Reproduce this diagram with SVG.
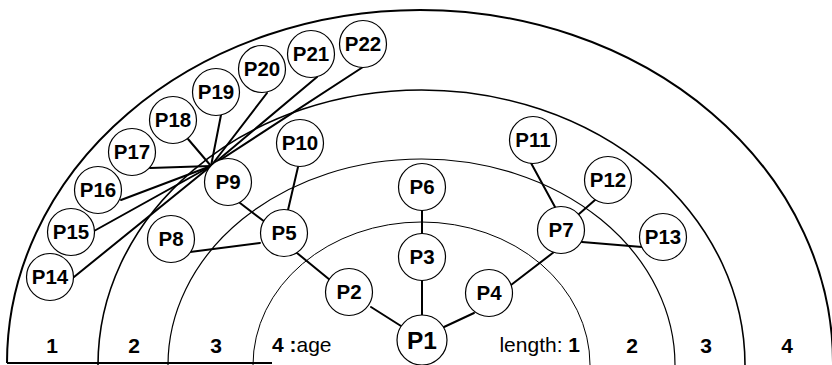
<svg xmlns="http://www.w3.org/2000/svg" width="832" height="365" viewBox="0 0 832 365">
<style>
.arc{fill:none;stroke:#000}
.edge{stroke:#000;stroke-width:2;stroke-linecap:round}
.node circle{fill:#fff;stroke:#000;stroke-width:1.2}
.node text{font-family:"Liberation Sans",Arial,sans-serif;font-weight:bold;font-size:20.5px;text-anchor:middle}
.lbl{font-family:"Liberation Sans",Arial,sans-serif;font-size:21px}
.b{font-weight:bold}
</style>
<rect width="832" height="365" fill="#fff"/>
<g id="rings">
<path class="arc" stroke-width="2" d="M7,363 A413,353 0 0 1 833,363"/>
<path class="arc" stroke-width="1.6" d="M98,365 A323.5,275 0 0 1 745,365"/>
<path class="arc" stroke-width="1.2" d="M168,365 A253.5,206 0 0 1 675,365"/>
<path class="arc" stroke-width="1" d="M253,365 A168.5,143 0 0 1 590,365"/>
<line x1="7" y1="363" x2="272" y2="363" stroke="#000" stroke-width="1.8"/>
</g>
<g id="connectors">
<line class="edge" x1="371" y1="307" x2="401" y2="326"/>
<line class="edge" x1="422" y1="281" x2="422" y2="316"/>
<line class="edge" x1="422" y1="210" x2="422" y2="234"/>
<line class="edge" x1="444" y1="327" x2="474" y2="313"/>
<line class="edge" x1="511" y1="285" x2="554" y2="252"/>
<line class="edge" x1="555" y1="207" x2="531" y2="163"/>
<line class="edge" x1="579" y1="214" x2="595" y2="200"/>
<line class="edge" x1="582" y1="242" x2="642" y2="247"/>
<line class="edge" x1="297" y1="253" x2="330" y2="280"/>
<line class="edge" x1="240" y1="203" x2="265" y2="222"/>
<line class="edge" x1="288" y1="210" x2="298" y2="167"/>
<line class="edge" x1="260" y1="243" x2="190" y2="252"/>
<line class="edge" x1="74" y1="277" x2="211" y2="166"/>
<line class="edge" x1="94" y1="231" x2="211" y2="166"/>
<line class="edge" x1="121" y1="200" x2="211" y2="166"/>
<line class="edge" x1="150" y1="168" x2="211" y2="166"/>
<line class="edge" x1="188" y1="139" x2="211" y2="166"/>
<line class="edge" x1="221" y1="115" x2="211" y2="166"/>
<line class="edge" x1="267" y1="93" x2="211" y2="166"/>
<line class="edge" x1="317" y1="77" x2="211" y2="166"/>
<line class="edge" x1="363" y1="67" x2="211" y2="166"/>
</g>
<g id="P1" class="node"><circle cx="422" cy="340" r="25"/><text x="422" y="349" style="font-size:24.5px">P1</text></g>
<g id="P2" class="node"><circle cx="349" cy="292" r="23.5"/><text x="349" y="299">P2</text></g>
<g id="P3" class="node"><circle cx="422" cy="257" r="23.5"/><text x="422" y="264">P3</text></g>
<g id="P4" class="node"><circle cx="489" cy="293" r="23.5"/><text x="489" y="300">P4</text></g>
<g id="P5" class="node"><circle cx="284" cy="233" r="23.5"/><text x="284" y="240">P5</text></g>
<g id="P6" class="node"><circle cx="422" cy="187" r="23.5"/><text x="422" y="194">P6</text></g>
<g id="P7" class="node"><circle cx="561" cy="230" r="23.5"/><text x="561" y="237">P7</text></g>
<g id="P8" class="node"><circle cx="171" cy="239" r="23.5"/><text x="171" y="246">P8</text></g>
<g id="P9" class="node"><circle cx="228" cy="182" r="23.5"/><text x="228" y="189">P9</text></g>
<g id="P10" class="node"><circle cx="300" cy="143" r="23.5"/><text x="300" y="150">P10</text></g>
<g id="P11" class="node"><circle cx="533" cy="140" r="23.5"/><text x="533" y="147">P11</text></g>
<g id="P12" class="node"><circle cx="608" cy="180" r="23.5"/><text x="608" y="187">P12</text></g>
<g id="P13" class="node"><circle cx="663" cy="237" r="23.5"/><text x="663" y="244">P13</text></g>
<g id="P14" class="node"><circle cx="50" cy="277" r="23.5"/><text x="50" y="284">P14</text></g>
<g id="P15" class="node"><circle cx="71" cy="232" r="23.5"/><text x="71" y="239">P15</text></g>
<g id="P16" class="node"><circle cx="98" cy="190" r="23.5"/><text x="98" y="197">P16</text></g>
<g id="P17" class="node"><circle cx="132" cy="152" r="23.5"/><text x="132" y="159">P17</text></g>
<g id="P18" class="node"><circle cx="173" cy="120" r="23.5"/><text x="173" y="127">P18</text></g>
<g id="P19" class="node"><circle cx="216" cy="92" r="23.5"/><text x="216" y="99">P19</text></g>
<g id="P20" class="node"><circle cx="262" cy="69" r="23.5"/><text x="262" y="76">P20</text></g>
<g id="P21" class="node"><circle cx="311" cy="54" r="23.5"/><text x="311" y="61">P21</text></g>
<g id="P22" class="node"><circle cx="363" cy="44" r="23.5"/><text x="363" y="51">P22</text></g>
<g id="labels">
<text class="lbl b" x="52" y="353" text-anchor="middle">1</text>
<text class="lbl b" x="134" y="353" text-anchor="middle">2</text>
<text class="lbl b" x="216" y="353" text-anchor="middle">3</text>
<text class="lbl" x="272" y="352"><tspan class="b">4 :</tspan>age</text>
<text class="lbl" x="580" y="352" text-anchor="end">length: <tspan class="b">1</tspan></text>
<text class="lbl b" x="632" y="353" text-anchor="middle">2</text>
<text class="lbl b" x="706" y="353" text-anchor="middle">3</text>
<text class="lbl b" x="787" y="353" text-anchor="middle">4</text>
</g>
</svg>
